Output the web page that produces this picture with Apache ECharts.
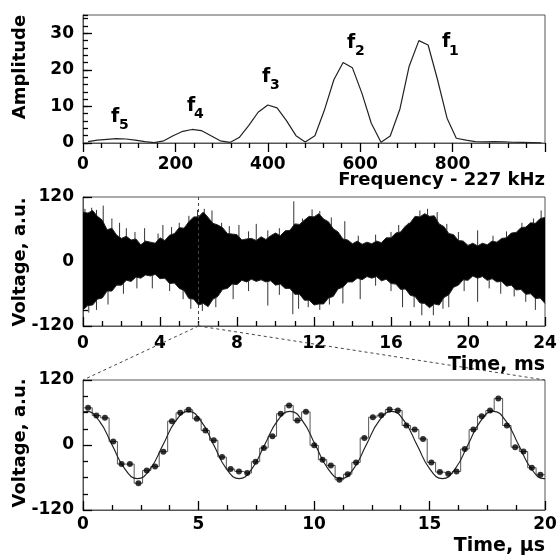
<!DOCTYPE html>
<html><head><meta charset="utf-8">
<script src="https://cdn.jsdelivr.net/npm/echarts@6/dist/echarts.min.js"></script>
<style>html,body{margin:0;padding:0;background:#fff}#c{width:560px;height:556px}</style>
</head><body><div id="c"></div>
<script>
// ---- Top panel: spectrum ----
const freqKHz = [11, 31, 52, 72, 93, 113, 134, 154, 175, 195, 216, 236, 256, 277, 297, 318, 338, 359, 379, 400, 420, 440, 461, 481, 502, 522, 543, 563, 583, 604, 624, 645, 665, 686, 706, 727, 747, 767, 788, 808, 829, 849, 870, 890, 911, 931, 951, 972, 992];
const amplitude = [0.4, 0.8, 1.0, 1.2, 1.1, 0.8, 0.4, 0.1, 0.6, 2.0, 3.2, 3.7, 3.4, 2.0, 0.6, 0.15, 1.5, 4.8, 8.4, 10.4, 9.6, 6.2, 2.0, 0.3, 2.0, 8.8, 17.3, 22.0, 20.6, 13.5, 5.4, 0.2, 1.9, 9.3, 21.0, 28.0, 26.8, 17.5, 6.8, 1.3, 0.8, 0.4, 0.3, 0.35, 0.3, 0.2, 0.15, 0.1, 0.05];
const peakLabels = ['1', '2', '3', '4', '5'];

// ---- Middle panel: signal envelope (ms, a.u.) ----
const envT = [0, 0.25, 0.5, 0.75, 1, 1.25, 1.5, 1.75, 2, 2.25, 2.5, 2.75, 3, 3.25, 3.5, 3.75, 4, 4.25, 4.5, 4.75, 5, 5.25, 5.5, 5.75, 6, 6.25, 6.5, 6.75, 7, 7.25, 7.5, 7.75, 8, 8.25, 8.5, 8.75, 9, 9.25, 9.5, 9.75, 10, 10.25, 10.5, 10.75, 11, 11.25, 11.5, 11.75, 12, 12.25, 12.5, 12.75, 13, 13.25, 13.5, 13.75, 14, 14.25, 14.5, 14.75, 15, 15.25, 15.5, 15.75, 16, 16.25, 16.5, 16.75, 17, 17.25, 17.5, 17.75, 18, 18.25, 18.5, 18.75, 19, 19.25, 19.5, 19.75, 20, 20.25, 20.5, 20.75, 21, 21.25, 21.5, 21.75, 22, 22.25, 22.5, 22.75, 23, 23.25, 23.5, 23.75, 24];
const upperV = [92, 90, 95, 84, 77, 59, 62, 49, 43, 47, 40, 42, 31, 38, 36, 34, 44, 39, 49, 52, 63, 62, 74, 83, 83, 92, 82, 71, 68, 63, 52, 51, 50, 40, 42, 43, 39, 46, 41, 48, 53, 48, 57, 58, 70, 69, 77, 84, 83, 89, 79, 74, 61, 55, 42, 40, 33, 38, 32, 36, 33, 38, 35, 44, 44, 53, 55, 66, 72, 84, 83, 89, 84, 85, 70, 65, 52, 50, 39, 38, 30, 34, 29, 34, 31, 38, 36, 43, 44, 53, 54, 63, 64, 72, 71, 80, 82];
const lowerV = [-90, -82, -81, -70, -68, -55, -55, -44, -44, -35, -37, -29, -31, -25, -27, -24, -32, -31, -41, -40, -50, -54, -69, -70, -81, -78, -84, -70, -65, -52, -50, -42, -43, -35, -38, -33, -37, -34, -38, -36, -44, -42, -50, -50, -61, -61, -72, -72, -81, -79, -79, -68, -65, -51, -48, -38, -38, -31, -34, -28, -31, -28, -36, -33, -41, -42, -52, -51, -63, -65, -77, -78, -86, -79, -81, -67, -62, -48, -44, -34, -35, -27, -31, -28, -35, -32, -38, -37, -46, -44, -53, -52, -61, -60, -69, -68, -78];
const spikeT = [0.1, 0.45, 0.7, 1.05, 1.5, 1.9, 2.25, 2.7, 3.2, 3.9, 4.15, 4.6, 5.0, 5.5, 5.95, 6.3, 6.7, 7.2, 7.6, 8.1, 8.6, 9.0, 9.6, 10.2, 10.95, 11.4, 11.9, 12.3, 12.9, 13.6, 14.3, 15.2, 16.0, 16.4, 16.9, 17.5, 17.9, 18.4, 18.9, 19.5, 20.5, 21.3, 22.0, 22.8, 23.4, 23.8,
                0.3, 0.7, 1.3, 2.1, 2.8, 3.6, 4.5, 5.2, 5.6, 6.2, 6.9, 7.8, 8.6, 9.6, 10.2, 10.9, 11.2, 11.7, 12.3, 12.8, 13.5, 14.4, 15.2, 16.0, 16.6, 17.2, 17.6, 18.2, 18.7, 19.0, 19.8, 20.5, 21.1, 21.7, 22.4, 23.0, 23.5];
const spikeV = [98, 100, 96, 104, 80, 72, 62, 55, 62, 52, 68, 64, 72, 85, 96, 98, 95, 72, 66, 68, 56, 70, 58, 62, 112, 80, 97, 94, 82, 75, 48, 50, 55, 68, 72, 95, 98, 92, 70, 55, 58, 48, 56, 72, 80, 95,
                -95, -90, -80, -60, -50, -50, -55, -70, -88, -92, -85, -70, -55, -82, -62, -98, -88, -85, -90, -80, -78, -70, -45, -55, -85, -85, -100, -100, -88, -85, -55, -75, -50, -60, -65, -75, -90];
const zoomStartMs = 6;

// ---- Bottom panel: samples (µs, a.u.) and fit ----
const sampleT = [0.22, 0.58, 0.95, 1.31, 1.67, 2.03, 2.40, 2.76, 3.12, 3.48, 3.85, 4.21, 4.57, 4.93, 5.30, 5.66, 6.02, 6.39, 6.75, 7.11, 7.47, 7.83, 8.20, 8.56, 8.92, 9.28, 9.65, 10.01, 10.37, 10.73, 11.10, 11.46, 11.82, 12.18, 12.55, 12.91, 13.27, 13.63, 14.00, 14.36, 14.72, 15.08, 15.45, 15.81, 16.17, 16.53, 16.90, 17.26, 17.62, 17.98, 18.35, 18.71, 19.07, 19.43, 19.80];
const sampleV = [68.6, 54.5, 50.1, 6.3, -35.2, -35.2, -70.5, -46.9, -39.5, -12.3, 44, 59.4, 65, 48.3, 26.7, 8.7, -22.2, -44.5, -48.8, -51.9, -30.9, -5.5, 16.1, 57.6, 73.1, 45.2, 61.2, -0.6, -27.1, -37.7, -64.2, -53.8, -32.1, 13, 51.4, 55.1, 65.6, 63.8, 36, 28.5, 11.2, -32.1, -50, -53.2, -48.8, -7.4, 28.5, 53.2, 63.8, 86, 36, -4, -12, -42, -55];
const fitT = [0, 0.16, 0.71, 1.26, 1.81, 2.36, 2.91, 3.46, 4.01, 4.56, 5.11, 5.66, 6.21, 6.76, 7.31, 7.86, 8.41, 8.96, 9.51, 10.06, 10.61, 11.16, 11.71, 12.26, 12.81, 13.36, 13.91, 14.46, 15.01, 15.56, 16.11, 16.66, 17.21, 17.76, 18.31, 18.86, 19.41, 19.96, 20];
const fitV = [61, 62, 44, 0, -44, -62, -44, 0, 44, 62, 44, 0, -44, -62, -44, 0, 44, 62, 44, 0, -44, -62, -44, 0, 44, 62, 44, 0, -44, -62, -44, 0, 44, 62, 44, 0, -44, -62, -62];

const FONT = 'DejaVu Sans';
const lbl = {color: '#000', fontFamily: FONT, fontWeight: 'bold', fontSize: 17};
const tickStyle = {color: '#000', width: 1.3};
const axLine = {show: true, onZero: false, lineStyle: {color: '#555', width: 1}};

function xAx(grid, min, max, interval, inside, minorSplit, margin, showMax) {
  return {gridIndex: grid, type: 'value', min, max, interval,
    axisLine: axLine, splitLine: {show: false},
    axisTick: {show: true, inside, length: 9, lineStyle: tickStyle},
    minorTick: {show: true, splitNumber: minorSplit, length: 5, lineStyle: tickStyle},
    axisLabel: Object.assign({margin, showMaxLabel: showMax, showMinLabel: true}, lbl)};
}
function yAx(grid, min, max, interval, minorSplit, tickLen, labels) {
  return {gridIndex: grid, type: 'value', position: 'left', min, max, interval,
    axisLine: axLine, splitLine: {show: false},
    axisTick: {show: true, inside: true, length: tickLen, lineStyle: tickStyle},
    minorTick: {show: minorSplit > 0, splitNumber: minorSplit || 5, length: 5, lineStyle: tickStyle},
    axisLabel: labels ? Object.assign({margin: 9, showMaxLabel: labels === 'all'}, lbl) : {show: false}};
}

const gridBase = {show: true, borderColor: '#555', borderWidth: 1, backgroundColor: 'transparent', containLabel: false, outerBoundsMode: 'none'};

const chart = echarts.init(document.getElementById('c'), null, {renderer: 'canvas'});
chart.setOption({
  animation: false,
  grid: [
    Object.assign({left: 83, top: 15, width: 462, height: 128}, gridBase),
    Object.assign({left: 83, top: 197, width: 462, height: 129}, gridBase),
    Object.assign({left: 83, top: 380, width: 462, height: 130}, gridBase)
  ],
  xAxis: [
    xAx(0, 0, 1000, 200, false, 5, 13, false),
    xAx(1, 0, 24, 4, true, 4, 9, true),
    xAx(2, 0, 20, 5, true, 4, 6, true)
  ],
  yAxis: [
    yAx(0, 0, 35, 10, 0, 9, 'nomax'),
    yAx(0, 0, 35, 2, 0, 5, null),
    yAx(1, -120, 120, 120, 4, 9, 'all'),
    yAx(2, -120, 120, 120, 4, 9, 'all')
  ],
  series: [
    {type: 'line', xAxisIndex: 0, yAxisIndex: 0, symbol: 'none', z: 3,
     lineStyle: {color: '#222', width: 1.2},
     data: freqKHz.map((f, i) => [f, amplitude[i]])},
    {type: 'custom', xAxisIndex: 1, yAxisIndex: 2, z: 1,
     renderItem: function (params, api) {
       const p0 = api.coord([api.value(0), 0]);
       const p1 = api.coord([api.value(0), api.value(1)]);
       return {type: 'line', shape: {x1: p0[0], y1: p0[1], x2: p1[0], y2: p1[1]},
               style: {stroke: '#333', lineWidth: 1}};
     },
     data: spikeT.map((t, i) => [t, spikeV[i]]),
     markLine: {silent: true, symbol: 'none', label: {show: false},
       lineStyle: {color: '#444', type: [3, 3], width: 1},
       data: [{xAxis: zoomStartMs}]}},
    {type: 'line', xAxisIndex: 1, yAxisIndex: 2, symbol: 'none', z: 2,
     lineStyle: {color: '#222', width: 1}, areaStyle: {color: '#000', opacity: 1, origin: -10},
     data: envT.map((t, i) => [t, upperV[i]])},
    {type: 'line', xAxisIndex: 1, yAxisIndex: 2, symbol: 'none', z: 2,
     lineStyle: {color: '#222', width: 1}, areaStyle: {color: '#000', opacity: 1, origin: 10},
     data: envT.map((t, i) => [t, lowerV[i]])},
    {type: 'line', xAxisIndex: 2, yAxisIndex: 3, symbol: 'none', step: 'middle', z: 2,
     lineStyle: {color: '#555', width: 1},
     data: [[0, sampleV[0]]].concat(sampleT.map((t, i) => [t, sampleV[i]]), [[20, sampleV[sampleV.length - 1]]])},
    {type: 'line', xAxisIndex: 2, yAxisIndex: 3, symbol: 'none', smooth: true, z: 3,
     lineStyle: {color: '#222', width: 1.2},
     data: fitT.map((t, i) => [t, fitV[i]])},
    {type: 'scatter', xAxisIndex: 2, yAxisIndex: 3, symbol: 'circle', symbolSize: 6, z: 4,
     itemStyle: {color: '#000'},
     data: sampleT.map((t, i) => [t, sampleV[i]])}
  ]
});

function txt(x, y, text, size, align, rot) {
  return {type: 'text', x, y, rotation: rot || 0, z: 10,
    style: {text, fill: '#000', font: 'bold ' + size + 'px "' + FONT + '"',
      align: align, verticalAlign: 'middle', textAlign: align, textVerticalAlign: 'middle'}};
}
const R = Math.PI / 2;
const g = [
  txt(20, 67, 'Amplitude', 18, 'center', R),
  txt(20, 262, 'Voltage, a.u.', 18, 'center', R),
  txt(20, 443, 'Voltage, a.u.', 18, 'center', R),
  txt(545, 180, 'Frequency - 227 kHz', 18, 'right'),
  txt(545, 365, 'Time, ms', 19, 'right'),
  txt(545, 546, 'Time, \u00b5s', 19, 'right')
];
// peak labels f1..f5
const fPos = [[442, 42.5, 449, 51], [347, 43.5, 355, 51], [262, 77, 270, 85.5], [187, 106, 194, 114.5], [111, 117, 119, 125.5]];
fPos.forEach((p, i) => {
  g.push(txt(p[0], p[1], 'f', 19, 'left'));
  g.push(txt(p[2], p[3], peakLabels[i], 14, 'left'));
});
// zoom projection lines
const pTop = chart.convertToPixel({xAxisIndex: 1, yAxisIndex: 2}, [zoomStartMs, -120]);
const pL = chart.convertToPixel({xAxisIndex: 2, yAxisIndex: 3}, [0, 120]);
const pR = chart.convertToPixel({xAxisIndex: 2, yAxisIndex: 3}, [20, 120]);
[pL, pR].forEach(p => g.push({type: 'line', z: 9,
  shape: {x1: pTop[0], y1: pTop[1], x2: p[0], y2: p[1]},
  style: {stroke: '#444', lineWidth: 1, lineDash: [3, 3]}}));
chart.setOption({graphic: g});
</script></body></html>
